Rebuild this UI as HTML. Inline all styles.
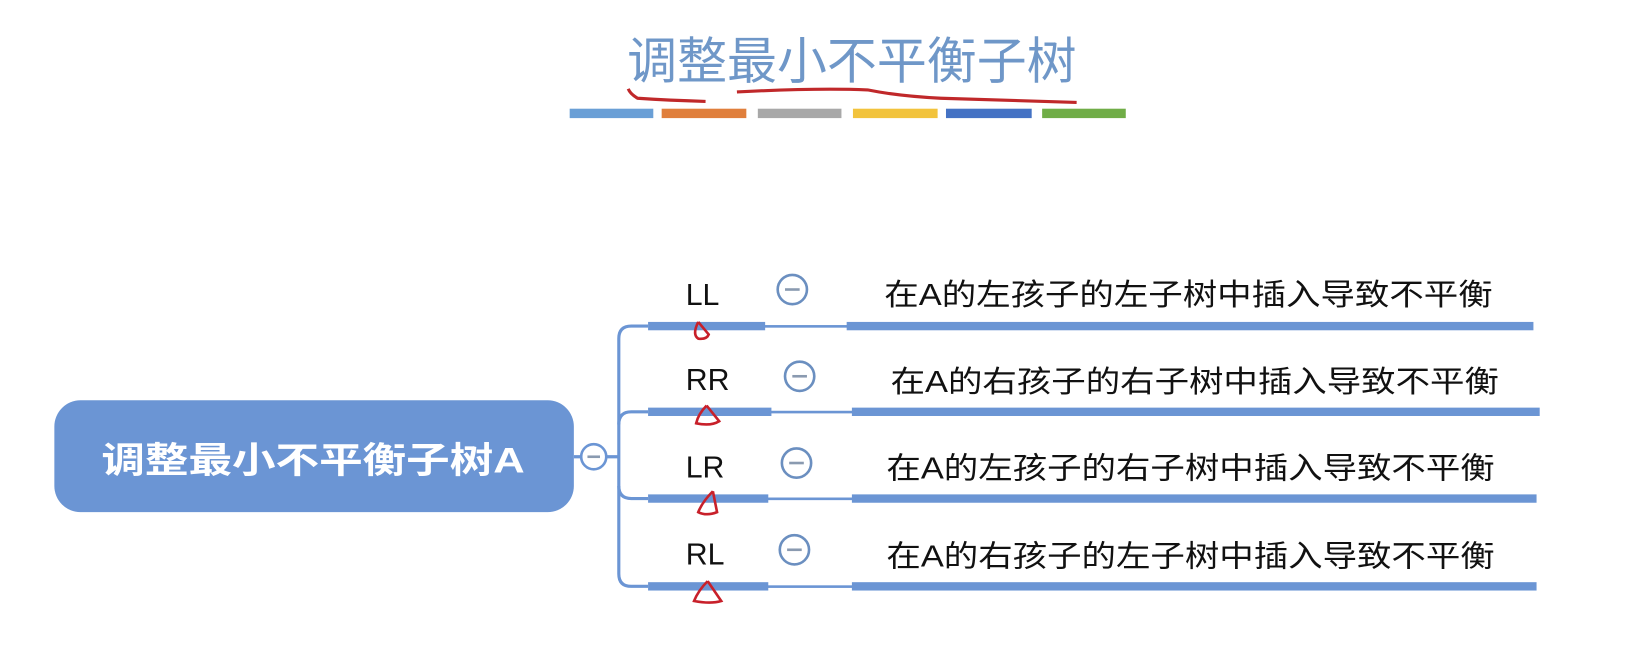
<!DOCTYPE html>
<html><head><meta charset="utf-8"><style>
html,body{margin:0;padding:0;background:#fff;}
svg{display:block;}
text{font-family:"Liberation Sans","Noto Sans CJK SC",sans-serif;}
</style></head><body>
<svg width="1639" height="659" viewBox="0 0 1568 630.5" preserveAspectRatio="none" xmlns="http://www.w3.org/2000/svg">
<rect width="1568" height="631" fill="#fff"/>
<text x="600" y="75" font-size="48" fill="#6f97c8" textLength="430" lengthAdjust="spacingAndGlyphs">调整最小不平衡子树</text>
<path d="M601 85 Q603 90 610 94 Q640 96 675 97" stroke="#c0282a" stroke-width="3" fill="none"/>
<path d="M705 88 Q780 84 830 86 Q860 92 900 94 Q970 96 1030 98" stroke="#c0282a" stroke-width="3" fill="none"/>
<rect x="545" y="104" width="80" height="9" fill="#6a9fd6"/>
<rect x="633" y="104" width="81" height="9" fill="#e07f3c"/>
<rect x="725" y="104" width="80" height="9" fill="#a8a8a8"/>
<rect x="816" y="104" width="81" height="9" fill="#f2c33c"/>
<rect x="905" y="104" width="82" height="9" fill="#4472c4"/>
<rect x="997" y="104" width="80" height="9" fill="#70ad47"/>

<rect x="52" y="383" width="497" height="107" rx="25" fill="#6b95d4"/>
<text x="97" y="452" font-size="34" font-weight="bold" fill="#fff" textLength="405" lengthAdjust="spacingAndGlyphs">调整最小不平衡子树A</text>
<line x1="549" y1="437" x2="592" y2="437" stroke="#6b95d4" stroke-width="3"/>
<circle cx="568" cy="437" r="12" fill="#fff" stroke="#6b95d4" stroke-width="2.5"/>
<line x1="562" y1="437" x2="574" y2="437" stroke="#8a9ab0" stroke-width="2.5"/>

<g fill="none" stroke="#6b95d4" stroke-width="3">
<path d="M620 312 H604 Q592 312 592 324 V549 Q592 561 604 561 H620"/>
<path d="M592 406 Q592 394 604 394 H620"/>
<path d="M592 465 Q592 477 604 477 H620"/>
</g>
<g fill="#6b95d4">
<rect x="620" y="308" width="112" height="8"/><rect x="730" y="311" width="82" height="2.5"/><rect x="810" y="308" width="657" height="8"/>
<rect x="620" y="390" width="118" height="8"/><rect x="736" y="393" width="81" height="2.5"/><rect x="815" y="390" width="658" height="8"/>
<rect x="620" y="473" width="115" height="8"/><rect x="733" y="476" width="84" height="2.5"/><rect x="815" y="473" width="655" height="8"/>
<rect x="620" y="557" width="115" height="8"/><rect x="733" y="560" width="84" height="2.5"/><rect x="815" y="557" width="655" height="8"/>
</g>
<g font-size="29" fill="#111">
<text x="656" y="292">LL</text>
<text x="656" y="373">RR</text>
<text x="656" y="457">LR</text>
<text x="656" y="540">RL</text>
</g>
<g fill="#fff" stroke="#6b8fc0" stroke-width="2.5">
<circle cx="758" cy="277" r="14"/><circle cx="765" cy="360" r="14"/><circle cx="762" cy="443" r="14"/><circle cx="760" cy="526" r="14"/>
</g>
<g stroke="#8a9ab0" stroke-width="2.5">
<line x1="751" y1="277" x2="765" y2="277"/><line x1="758" y1="360" x2="772" y2="360"/><line x1="755" y1="443" x2="769" y2="443"/><line x1="753" y1="526" x2="767" y2="526"/>
</g>
<g font-size="29" fill="#111">
<text x="846" y="292" textLength="582" lengthAdjust="spacingAndGlyphs">在A的左孩子的左子树中插入导致不平衡</text>
<text x="852" y="375" textLength="582" lengthAdjust="spacingAndGlyphs">在A的右孩子的右子树中插入导致不平衡</text>
<text x="848" y="458" textLength="582" lengthAdjust="spacingAndGlyphs">在A的左孩子的右子树中插入导致不平衡</text>
<text x="848" y="542" textLength="582" lengthAdjust="spacingAndGlyphs">在A的右孩子的左子树中插入导致不平衡</text>
</g>
<g fill="none" stroke="#c8202a" stroke-width="2.5">
<path d="M668 308 L678 320 Q676 325 668 324 Q662 320 668 308"/>
<path d="M676 388 L688 403 Q680 408 666 405 Q668 396 676 388"/>
<path d="M682 470 L686 490 Q676 494 668 490 Q672 480 682 470"/>
<path d="M677 556 L690 575 Q680 578 664 575 Q668 565 677 556"/>
</g>
</svg>
</body></html>
